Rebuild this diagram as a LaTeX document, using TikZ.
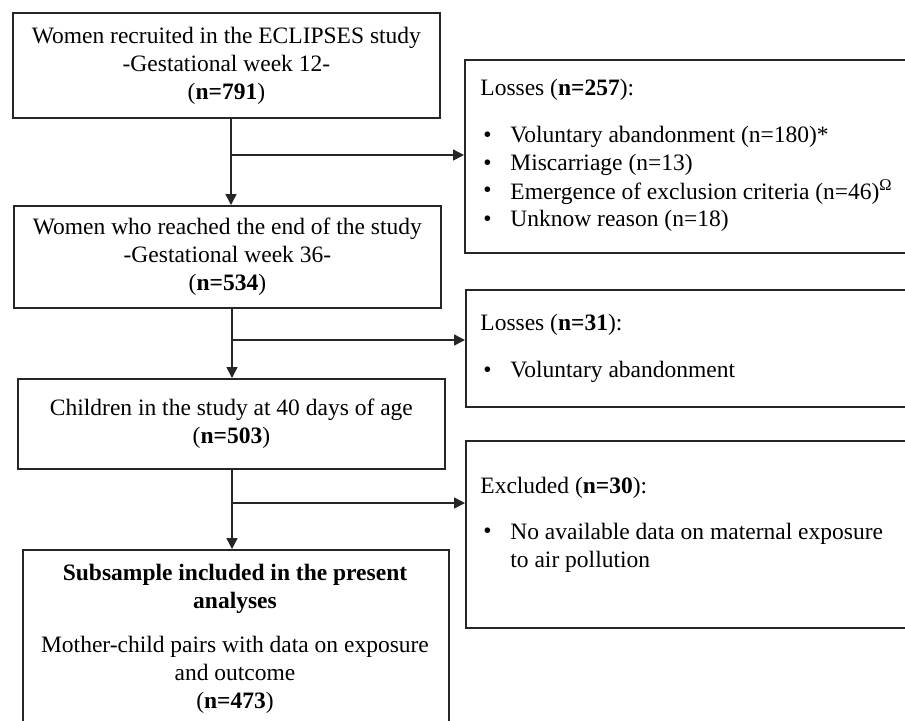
\documentclass[tikz,border=0pt]{standalone}
\usepackage{fontspec}
\setmainfont{Liberation Serif}
\usetikzlibrary{arrows.meta}
\begin{document}
\begin{tikzpicture}[x=0.5pt,y=-0.5pt,
  every node/.style={font=\fontsize{11.75}{14}\selectfont, text=black},
  box/.style={draw=black!85, line width=0.9pt, rectangle, inner sep=0pt, anchor=north west, align=center},
  txt/.style={inner sep=0pt, anchor=west, align=left},
  conn/.style={draw=black!85, line width=0.75pt},
  arr/.style={conn, -{Triangle[length=5.5pt,width=5.5pt]}}]
\useasboundingbox (0,0) rectangle (905,720);
\fill[white] (0,0) rectangle (905,720);
\clip (0,0) rectangle (905,720);

% left column
\node[box, minimum width=213.5pt, minimum height=52.5pt] (b1) at (12,12)
  {Women recruited in the ECLIPSES study\\-Gestational week 12-\\(\textbf{n=791})};
\node[box, minimum width=213.5pt, minimum height=51pt] (b2) at (13,205)
  {Women who reached the end of the study\\-Gestational week 36-\\(\textbf{n=534})};
\node[box, minimum width=213.5pt, minimum height=45pt] (b3) at (17,378)
  {Children in the study at 40 days of age\\(\textbf{n=503})};
\node[box, minimum width=213pt, minimum height=105.5pt] (b4) at (22,549) {};
\node[inner sep=0pt, align=center] (t4) at (235,639)
  {\textbf{Subsample included in the present}\\\textbf{analyses}\\[8pt]
   Mother-child pairs with data on exposure\\and outcome\\(\textbf{n=473})};

% right column
\node[box, minimum width=233pt, minimum height=96.5pt] (r1) at (464,59) {};
\node[box, minimum width=233pt, minimum height=58.5pt] (r2) at (465,289) {};
\node[box, minimum width=233pt, minimum height=93.5pt] (r3) at (465,440) {};

\node[txt] (r1h) at (480,90) {Losses (\textbf{n=257}):};
\node[txt] (r1a) at (483,137) {\textbullet};
\node[txt] (r1at) at (510,137) {Voluntary abandonment (n=180)*};
\node[txt] (r1b) at (483,165) {\textbullet};
\node[txt] (r1bt) at (510,165) {Miscarriage (n=13)};
\node[txt] (r1c) at (483,192) {\textbullet};
\node[txt] (r1ct) at (510,192) {Emergence of exclusion criteria (n=46)\textsuperscript{Ω}};
\node[txt] (r1d) at (483,221) {\textbullet};
\node[txt] (r1dt) at (510,221) {Unknow reason (n=18)};

\node[txt] (r2h) at (480,325) {Losses (\textbf{n=31}):};
\node[txt] (r2a) at (483,372) {\textbullet};
\node[txt] (r2at) at (510,372) {Voluntary abandonment};

\node[txt] (r3h) at (480,488) {Excluded (\textbf{n=30}):};
\node[txt] (r3a) at (483,533) {\textbullet};
\node[txt] (r3at) at (510,547.5) {No available data on maternal exposure\\to air pollution};

% connectors
\coordinate (j1) at (231,155);
\coordinate (j2) at (232,340);
\coordinate (j3) at (232,503);
\draw[arr] (b1.south -| j1) -- (b2.north -| j1);
\draw[arr] (j1) -- (r1.west |- j1);
\draw[arr] (b2.south -| j2) -- (b3.north -| j2);
\draw[arr] (j2) -- (r2.west |- j2);
\draw[arr] (b3.south -| j3) -- (b4.north -| j3);
\draw[arr] (j3) -- (r3.west |- j3);
\end{tikzpicture}
\end{document}
